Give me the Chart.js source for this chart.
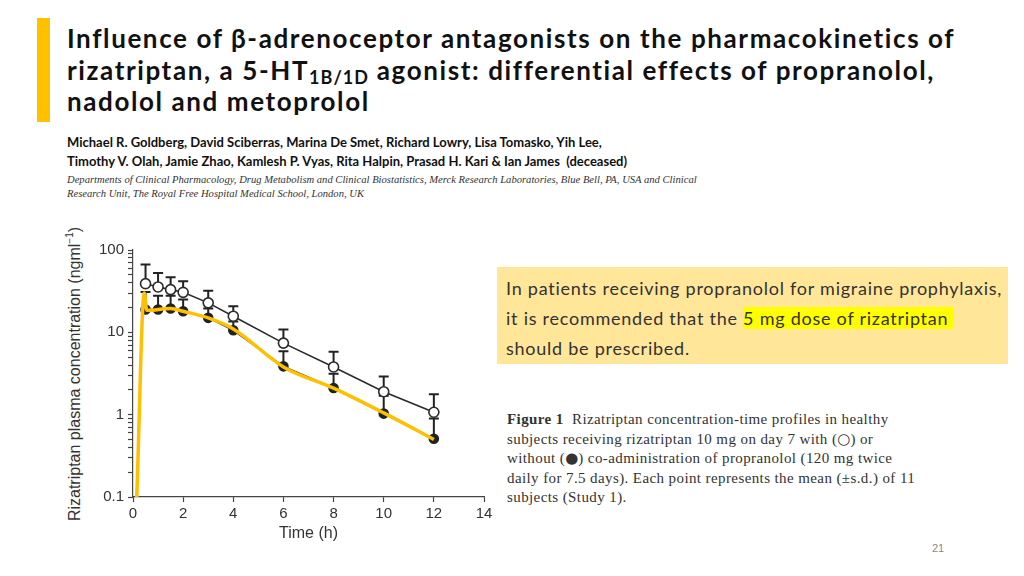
<!DOCTYPE html>
<html>
<head>
<meta charset="utf-8">
<script src="https://cdn.jsdelivr.net/npm/chart.js@4.4.1/dist/chart.umd.min.js"></script>
<style>
  body { margin: 0; background: #fff; }
  #slide { position: relative; width: 1024px; height: 576px; overflow: hidden; background: #fff; }
  .abs { position: absolute; white-space: nowrap; }
  #bar { left: 37px; top: 18px; width: 13px; height: 104px; background: #FFC000; }
  #title { left: 67px; top: 23px; font: 700 26px Lato, sans-serif; letter-spacing: 1.6px; line-height: 31.5px; color: #111; }
  #title sub { font-size: 18px; vertical-align: -4px; line-height: 0; letter-spacing: 1px; }
  #authors { left: 67px; top: 133px; font: 700 13px Lato, sans-serif; line-height: 19px; color: #111; }
  #affil { left: 67px; top: 173px; font: italic 10.6px "Liberation Serif", serif; line-height: 13.5px; color: #333; }
  #callout { left: 497px; top: 267px; width: 511px; height: 97px; background: #FFE699; }
  #callout-text { left: 506px; top: 273px; font: 18px Lato, sans-serif; letter-spacing: 0.75px; line-height: 30px; color: #333; }
  #callout-text span { background: #FFFF00; }
  #caption { left: 507px; top: 410px; font: 15px "Liberation Serif", serif; letter-spacing: 0.4px; line-height: 19.6px; color: #333; }
  #caption .sym { font: 15px "DejaVu Sans", sans-serif; letter-spacing: 0; }
  #pagenum { left: 932px; top: 542px; font: 11px "Liberation Sans", sans-serif; color: #888; }
  #ytitle { left: 74px; top: 374px; font: 16px "Liberation Sans", Arial, sans-serif; color: #333;
            transform: translate(-50%, -50%) rotate(-90deg); }
  #ytitle sup { font-size: 10px; }
  #chartbox { position: absolute; left: 55px; top: 225px; width: 445px; height: 325px; }
</style>
</head>
<body>
<div id="slide">
  <div class="abs" id="bar"></div>
  <div class="abs" id="title">Influence of β-adrenoceptor antagonists on the pharmacokinetics of<br>rizatriptan, a 5-HT<sub>1B/1D</sub> agonist: differential effects of propranolol,<br>nadolol and metoprolol</div>
  <div class="abs" id="authors">Michael R. Goldberg, David Sciberras, Marina De Smet, Richard Lowry, Lisa Tomasko, Yih Lee,<br>Timothy V. Olah, Jamie Zhao, Kamlesh P. Vyas, Rita Halpin, Prasad H. Kari &amp; Ian James&nbsp; (deceased)</div>
  <div class="abs" id="affil">Departments of Clinical Pharmacology, Drug Metabolism and Clinical Biostatistics, Merck Research Laboratories, Blue Bell, PA, USA and Clinical<br>Research Unit, The Royal Free Hospital Medical School, London, UK</div>
  <div class="abs" id="callout"></div>
  <div class="abs" id="callout-text">In patients receiving propranolol for migraine prophylaxis,<br>it is recommended that the <span>5 mg dose of rizatriptan&nbsp;</span><br>should be prescribed.</div>
  <div class="abs" id="caption"><b>Figure 1</b>&nbsp; Rizatriptan concentration-time profiles in healthy<br>subjects receiving rizatriptan 10 mg on day 7 with (<span class="sym">○</span>) or<br>without (<span class="sym">●</span>) co-administration of propranolol (120 mg twice<br>daily for 7.5 days). Each point represents the mean (±s.d.) of 11<br>subjects (Study 1).</div>
  <div class="abs" id="pagenum">21</div>
  <div class="abs" id="ytitle">Rizatriptan plasma concentration (ngml<sup>−1</sup>)</div>
  <div id="chartbox"><canvas id="grafico"></canvas></div>
</div>
<script>
// hours after dose
const tempos = [0.5, 1, 1.5, 2, 3, 4, 6, 8, 10, 12];
// with propranolol (open circles), mean and mean + s.d.
const comPropranolol = [39, 35.6, 33, 30.6, 22.8, 15.7, 7.4, 3.8, 1.9, 1.07];
const comPropranololSD = [66.5, 52.6, 46.6, 41.7, 32.1, 20.7, 10.8, 5.8, 2.9, 1.77];
// without propranolol (filled circles)
const semPropranolol = [18.9, 18.9, 19.5, 18, 15, 10.6, 3.86, 2.11, 1.03, 0.51];
const semPropranololSD = [31, 27.9, 27.9, 25, 19.5, 13.5, 5.9, 3.15, 1.7, 0.9];
// yellow highlight line drawn over the figure
const temposAmarelo = [0.15, 0.45, 0.55, 1.5, 2, 3, 4, 6, 8, 10, 12];
const valoresAmarelo = [0.1, 30, 18.5, 19.5, 18, 15, 11, 3.8, 2.1, 1.05, 0.5];
// y axis ticks (log)
const ticksY = [0.1, 0.2, 0.3, 0.4, 0.5, 0.6, 0.7, 0.8, 0.9, 1, 2, 3, 4, 5, 6, 7, 8, 9,
  10, 20, 30, 40, 50, 60, 70, 80, 90, 100];
const rotulosY = [0.1, 1, 10, 100];

function pontos(xs, ys) {
  return xs.map((x, i) => ({x: x, y: ys[i]}));
}

const barrasErro = {
  id: 'barrasErro',
  beforeDatasetsDraw(chart) {
    const {ctx, scales: {x, y}} = chart;
    ctx.save();
    ctx.strokeStyle = '#222';
    ctx.lineWidth = 2;
    [[semPropranolol, semPropranololSD], [comPropranolol, comPropranololSD]].forEach(([media, topo]) => {
      tempos.forEach((t, i) => {
        const px = x.getPixelForValue(t);
        const y0 = y.getPixelForValue(media[i]);
        const y1 = y.getPixelForValue(topo[i]);
        ctx.beginPath();
        ctx.moveTo(px, y0);
        ctx.lineTo(px, y1);
        ctx.moveTo(px - 5, y1);
        ctx.lineTo(px + 5, y1);
        ctx.stroke();
      });
    });
    ctx.restore();
  }
};

const fonteEixo = {family: '"Liberation Sans", Arial, sans-serif', size: 15};

new Chart(document.querySelector('#grafico'), {
  type: 'line',
  data: {
    datasets: [{
      label: 'highlight',
      data: pontos(temposAmarelo, valoresAmarelo),
      borderColor: '#FFC000',
      borderWidth: 3.5,
      pointRadius: 0,
      cubicInterpolationMode: 'monotone',
      order: 0
    }, {
      label: 'with propranolol',
      data: pontos(tempos, comPropranolol),
      borderColor: '#2b2b2b',
      borderWidth: 1.6,
      pointRadius: 5,
      pointBorderWidth: 1.6,
      pointBackgroundColor: '#fff',
      pointBorderColor: '#2b2b2b',
      order: 1
    }, {
      label: 'without propranolol',
      data: pontos(tempos, semPropranolol),
      borderColor: '#2b2b2b',
      borderWidth: 1.6,
      pointRadius: 4.5,
      pointBackgroundColor: '#222',
      pointBorderColor: '#222',
      order: 2
    }]
  },
  options: {
    responsive: true,
    maintainAspectRatio: false,
    animation: false,
    layout: {padding: {top: 25, right: 16, left: 0, bottom: 0}},
    plugins: {legend: {display: false}, tooltip: {enabled: false}},
    scales: {
      x: {
        type: 'linear',
        min: 0,
        max: 14,
        afterFit: (scale) => { scale.height = 53; },
        ticks: {stepSize: 2, color: '#333', font: fonteEixo, padding: 3, maxRotation: 0},
        grid: {drawOnChartArea: false, tickLength: 5, color: '#444', tickWidth: 1.2},
        border: {color: '#444', width: 1.2},
        title: {display: true, text: 'Time (h)', color: '#333',
          font: {family: '"Liberation Sans", Arial, sans-serif', size: 16}, padding: {top: 0, bottom: 7}}
      },
      y: {
        type: 'logarithmic',
        min: 0.1,
        max: 100,
        afterFit: (scale) => { scale.width = 78; },
        afterBuildTicks: (scale) => { scale.ticks = ticksY.map(v => ({value: v})); },
        ticks: {
          autoSkip: false,
          color: '#333',
          font: fonteEixo,
          padding: 4,
          callback: (v) => rotulosY.includes(v) ? String(v) : ''
        },
        grid: {drawOnChartArea: false, tickLength: 5, color: '#444', tickWidth: 1.2},
        border: {color: '#444', width: 1.2}
      }
    }
  },
  plugins: [barrasErro]
});
</script>
</body>
</html>
